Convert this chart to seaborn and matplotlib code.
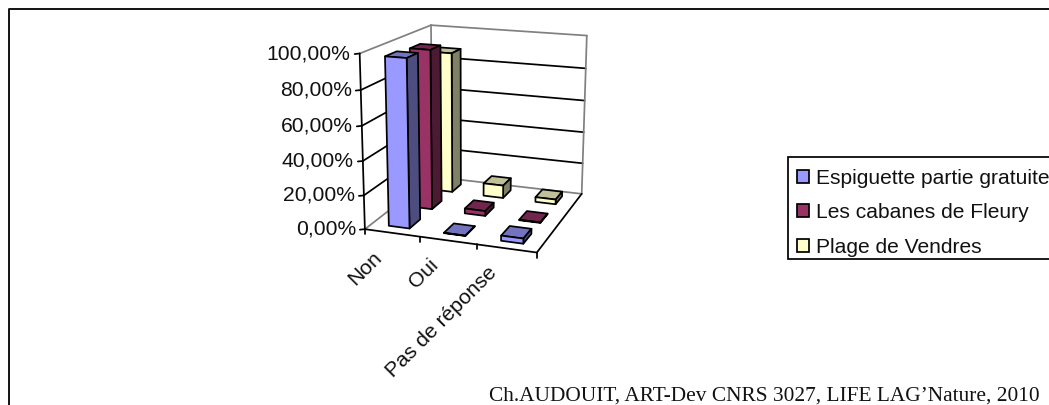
import numpy as np
import matplotlib
matplotlib.use("Agg")
import matplotlib.pyplot as plt
from matplotlib.patches import Patch, Rectangle
import seaborn as sns

# data
categories = ["Non", "Oui", "Pas de réponse"]
series = ["Espiguette partie gratuite", "Les cabanes de Fleury", "Plage de Vendres"]
espiguette = [97.5, 0.2, 3.0]
cabanes = [96.0, 3.0, 0.3]
vendres = [88.0, 8.0, 3.0]
z_ticks = [0, 20, 40, 60, 80, 100]

FRONT = ["#9999FF", "#993366", "#FFFFCC"]
TOP = ["#7373BF", "#73264D", "#BFBF99"]
SIDE = ["#4D4D80", "#4D1A33", "#808066"]
GREY = "#808080"
LW = 1.25

sns.set_theme(style="white")
plt.rcParams["font.family"] = ["Liberation Sans", "DejaVu Sans"]
sns.set_palette(FRONT)

fig = plt.figure(figsize=(10.49, 4.05), dpi=100, facecolor="white")
ax = fig.add_axes([0, 0, 1, 1])
ax.set_xlim(0, 1049)
ax.set_ylim(405, 0)
ax.axis("off")

# perspective of the box, fitted on its 8 corners (cat, series, value -> pixel)
box = [
    ((0, 0, 0), (365, 228)), ((0, 0, 100), (359, 52)),
    ((3, 0, 0), (537, 253)), ((3, 0, 100), (541, 70)),
    ((0, 3, 0), (432, 178)), ((0, 3, 100), (432, 26)),
    ((3, 3, 0), (582, 193)), ((3, 3, 100), (586, 34)),
]
A, b = [], []
for (u, v, w), (px, py) in box:
    X = [u / 3, v / 3, w / 100, 1]
    A.append(X + [0, 0, 0, 0] + [-px * c for c in X[:3]])
    A.append([0, 0, 0, 0] + X + [-py * c for c in X[:3]])
    b += [px, py]
P = np.append(np.linalg.lstsq(np.array(A, float), np.array(b, float), rcond=None)[0], 1).reshape(3, 4)


def project(u, v, w):
    h = P @ np.array([u / 3, v / 3, w / 100, 1])
    return h[0] / h[2], h[1] / h[2]


def line(p, q, color="black", lw=LW, z=2):
    a, c = project(*p), project(*q)
    ax.plot([a[0], c[0]], [a[1], c[1]], color=color, lw=lw, zorder=z, solid_capstyle="round")


# walls and floor
for w in z_ticks:
    col = GREY if w in (0, 100) else "black"
    line((0, 0, w), (0, 3, w), col)
    line((0, 3, w), (3, 3, w), col)
line((0, 3, 0), (0, 3, 100), GREY)
line((3, 3, 0), (3, 3, 100), GREY)
line((0, 0, 0), (0, 0, 100), "black", z=3)
line((0, 0, 0), (3, 0, 0), "black", z=3)
line((3, 0, 0), (3, 3, 0), "black", z=3)

for w in z_ticks:
    x, y = project(0, 0, w)
    ax.plot([x - 5, x], [y + 0.5, y], color="black", lw=LW)
    ax.text(x - 9, y, f"{w},00%", ha="right", va="center", fontsize=15.2, color="#111111")

for i in range(4):
    x, y = project(i, 0, 0)
    ax.plot([x, x], [y, y + 5], color="black", lw=LW)

for i, cat in enumerate(categories):
    x, y = project(i + 0.5, 0, 0)
    ax.text(x - 20, y + 15, cat, rotation=45, rotation_mode="anchor", ha="right", va="top",
            fontsize=15.2, color="#111111")


def draw_bar(u0, v0, value, s):
    u1, v1 = u0 + 0.38, v0 + 0.46
    faces = [
        ([(u0, v0, value), (u1, v0, value), (u1, v1, value), (u0, v1, value)], TOP[s]),
        ([(u1, v0, 0), (u1, v1, 0), (u1, v1, value), (u1, v0, value)], SIDE[s]),
        ([(u0, v0, 0), (u1, v0, 0), (u1, v0, value), (u0, v0, value)], FRONT[s]),
    ]
    for corners, color in faces:
        pts = [project(*c) for c in corners]
        ax.fill([p[0] for p in pts], [p[1] for p in pts], facecolor=color,
                edgecolor="black", lw=LW, joinstyle="round", zorder=4 + 3 - s)


# back row first so the front bars cover it
all_values = [espiguette, cabanes, vendres]
for s in range(2, -1, -1):
    for i in range(3):
        draw_bar(i + 0.31, s + 0.28, all_values[s][i], s)

# legend box runs off the right edge of the picture
ax.add_patch(Rectangle((788, 157), 300, 102, facecolor="white", edgecolor="black", lw=LW, zorder=5))
handles = [Patch(facecolor=FRONT[s], edgecolor="black", lw=LW, label=series[s]) for s in range(3)]
leg = ax.legend(handles=handles, loc="upper left", bbox_to_anchor=(797 / 1049, 1 - 168.5 / 405),
                bbox_transform=fig.transFigure, fontsize=15.1, frameon=False,
                handlelength=0.58, handleheight=0.58, handletextpad=0.34,
                labelspacing=0.74, borderpad=0, borderaxespad=0, labelcolor="#111111")
leg.set_zorder(6)

# slide frame, no bottom or right edge in the picture
ax.plot([9, 9, 1049], [405, 9, 9], color="black", lw=1.3)

ax.text(489, 401, "Ch.AUDOUIT, ART-Dev CNRS 3027, LIFE LAG\u2019Nature, 2010", ha="left", va="baseline",
        fontsize=15.4, family=["Liberation Serif", "DejaVu Serif"], color="#111111")

fig.savefig("out.png", dpi=100)
